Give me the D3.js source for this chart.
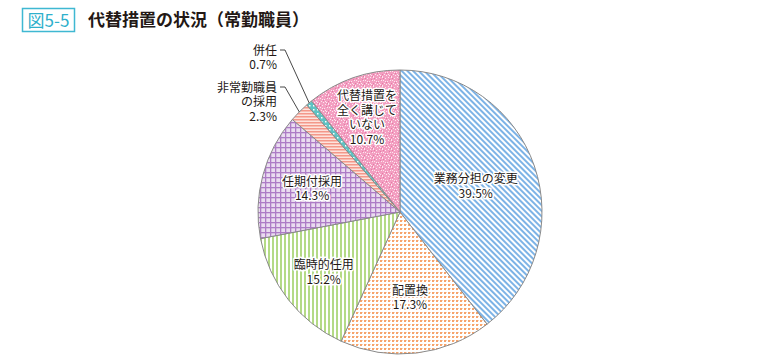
<!DOCTYPE html>
<html><head><meta charset="utf-8">
<script src="https://cdn.jsdelivr.net/npm/d3@7"></script>
<style>
body{margin:0;background:#fff;}
svg{display:block;font-family:"Noto Sans CJK JP","Noto Sans",sans-serif;}
</style></head>
<body><svg id="c" width="760" height="360"></svg>
<script>
const categories = ["業務分担の変更","配置換","臨時的任用","任期付採用","非常勤職員の採用","併任","代替措置を全く講じていない"];
const labelLines = [["業務分担の変更"],["配置換"],["臨時的任用"],["任期付採用"],["非常勤職員","の採用"],["併任"],["代替措置を","全く講じて","いない"]];
const values = [39.5,17.3,15.2,14.3,2.3,0.7,10.7];
const title = "代替措置の状況（常勤職員）";
const figNo = "図5-5";

const svg = d3.select("#c");
const defs = svg.append("defs");
const ink = "#231815";

function pat(id,w,h,bg,attrs){const p=defs.append("pattern").attr("id",id).attr("patternUnits","userSpaceOnUse").attr("width",w).attr("height",h);
  if(attrs) p.attr("patternTransform",attrs);
  p.append("rect").attr("width",w).attr("height",h).attr("fill",bg);return p;}
let p;
p=pat("pBlue",4,4,"#fff","rotate(-45)"); p.append("rect").attr("x",0).attr("y",0).attr("width",2).attr("height",4).attr("fill","#7db3e6");
p=pat("pOrange",4,4,"#fff"); p.append("rect").attr("x",0).attr("y",0).attr("width",2).attr("height",2).attr("fill","#f6a46c");
p.append("rect").attr("x",2).attr("y",0).attr("width",1).attr("height",1).attr("fill","#fbd3b6");
p=pat("pGreen",4,4,"#fff"); p.append("rect").attr("x",0).attr("y",0).attr("width",2).attr("height",4).attr("fill","#b4da86");
p=pat("pPurple",5,5,"#eadcf0"); p.append("rect").attr("x",0).attr("y",0).attr("width",1.3).attr("height",5).attr("fill","#ad7cc6");
p.append("rect").attr("x",0).attr("y",0).attr("width",5).attr("height",1.3).attr("fill","#ad7cc6");
p=pat("pSalmon",3,3,"#fde3dd"); p.append("rect").attr("x",0).attr("y",0).attr("width",3).attr("height",1.5).attr("fill","#f4988a");
p=pat("pTeal",4,4,"#5ec3c4"); p.append("rect").attr("x",1).attr("y",1).attr("width",1.5).attr("height",1.5).attr("fill","#fff");
p=pat("pPink",9,9,"#f39fc1");
[[0,0],[3,1],[6,0],[1,3],[5,4],[8,3],[2,6],[4,7],[7,7],[0,8],[6,6],[3,4]].forEach(([x,y])=>p.append("rect").attr("x",x).attr("y",y).attr("width",1).attr("height",1).attr("fill","#fde6ef"));
[[1,1],[7,2],[4,5],[0,6],[8,8]].forEach(([x,y])=>p.append("rect").attr("x",x).attr("y",y).attr("width",1).attr("height",1).attr("fill","#e57aa6"));
const fills=["url(#pBlue)","url(#pOrange)","url(#pGreen)","url(#pPurple)","url(#pSalmon)","url(#pTeal)","url(#pPink)"];

svg.append("rect").attr("x",22.5).attr("y",8.5).attr("width",52).attr("height",23).attr("fill","#fff").attr("stroke","#3fb8d2").attr("stroke-width",1.5);
svg.append("text").attr("x",48.5).attr("y",26.5).attr("text-anchor","middle").attr("font-size",17).attr("fill","#2fb0cc").text(figNo);
svg.append("text").attr("x",88).attr("y",26).attr("font-size",17).attr("font-weight",700).attr("fill",ink).text(title);

const cx=400, cy=212, R=142;
const g=svg.append("g").attr("transform",`translate(${cx},${cy})`);
const pie=d3.pie().sort(null).value(d=>d)(values);
const arc=d3.arc().innerRadius(0).outerRadius(R);
g.selectAll("path.s").data(pie).join("path").attr("class","s").attr("d",arc)
 .attr("fill",(d,i)=>fills[i]).attr("stroke","#8a8a8a").attr("stroke-width",1);

const labelR=[80,86,97,91,null,null,100];
const fmt=v=>v.toFixed(1)+"%";
pie.forEach((d,i)=>{
  if(labelR[i]==null) return;
  const c=d3.arc().innerRadius(labelR[i]).outerRadius(labelR[i]).centroid(d);
  const lines=labelLines[i].concat([fmt(values[i])]);
  const lh=14.5;
  const t=g.append("text").attr("text-anchor","middle").attr("font-size",12).attr("fill",ink)
    .attr("stroke","#fff").attr("stroke-width",3).attr("stroke-linejoin","round").attr("paint-order","stroke");
  lines.forEach((s,k)=>t.append("tspan").attr("x",c[0]).attr("y",c[1]+(k-(lines.length-1)/2)*lh+4.5).text(s));
});

const outer=[{i:5,ty:-162},{i:4,ty:-125}];
outer.forEach(o=>{
  const d=pie[o.i];
  const a=(d.startAngle+d.endAngle)/2;
  const px=Math.sin(a)*R, py=-Math.cos(a)*R;
  const lx=-115, bx=-120;
  const lines=labelLines[o.i].concat([fmt(values[o.i])]);
  g.append("polyline").attr("points",`${bx},${o.ty} ${lx},${o.ty} ${px},${py}`).attr("fill","none").attr("stroke","#333").attr("stroke-width",0.9);
  const t=g.append("text").attr("text-anchor","end").attr("font-size",12).attr("fill",ink);
  lines.forEach((s,k)=>t.append("tspan").attr("x",bx-3).attr("y",o.ty+4.5+k*14.5).text(s));
});
</script></body></html>
